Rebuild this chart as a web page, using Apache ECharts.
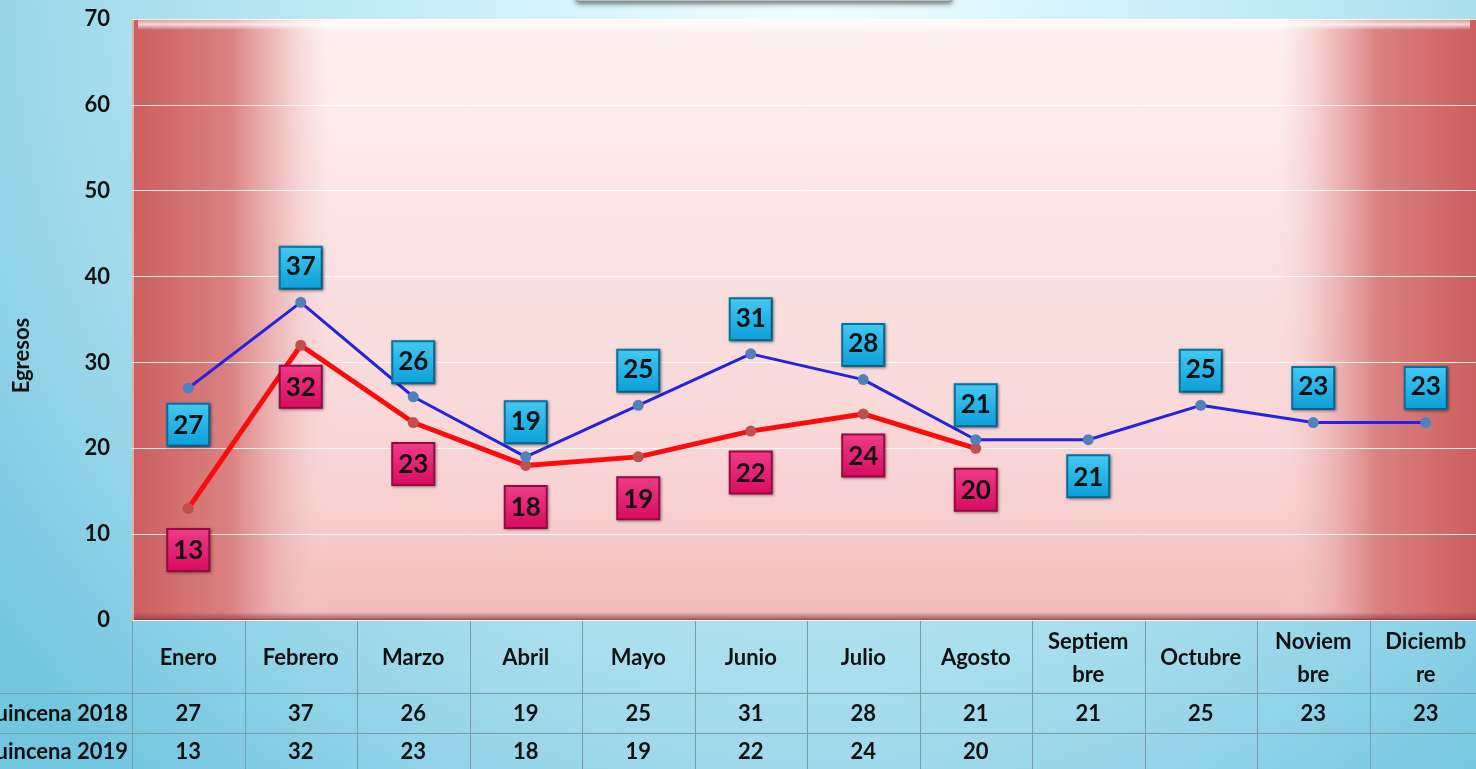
<!DOCTYPE html>
<html>
<head>
<meta charset="utf-8">
<script src="https://cdn.jsdelivr.net/npm/echarts@6/dist/echarts.min.js"></script>
<style>
html,body{margin:0;padding:0;width:1476px;height:769px;overflow:hidden;}
#c{width:1476px;height:769px;}
</style>
</head>
<body>
<div id="c"></div>
<script>
// ---- data ----
const categories = ['Enero','Febrero','Marzo','Abril','Mayo','Junio','Julio','Agosto','Septiembre','Octubre','Noviembre','Diciembre'];
const tickLabels = ['Enero','Febrero','Marzo','Abril','Mayo','Junio','Julio','Agosto','Septiem\nbre','Octubre','Noviem\nbre','Diciemb\nre'];
const seriesNames = ['Quincena 2018','Quincena 2019'];
const values2018 = [27,37,26,19,25,31,28,21,21,25,23,23];
const values2019 = [13,32,23,18,19,22,24,20,null,null,null,null];
const yAxisName = 'Egresos';
const yMin = 0, yMax = 70, yStep = 10;

// ---- styles ----
const FONT = 'Lato';
const below2018 = new Set([0, 8]);

function boxLabel(c1, c2, border, pos, dist) {
  return {
    show: true, position: pos, distance: dist,
    formatter: '{c}',
    width: 40, height: 40, lineHeight: 42,
    fontSize: 26, fontWeight: 'bold', fontFamily: FONT, color: '#111',
    backgroundColor: {type:'linear', x:0, y:0, x2:0, y2:1,
      colorStops:[{offset:0,color:c1},{offset:1,color:c2}]},
    borderColor: border, borderWidth: 2,
    shadowColor: 'rgba(0,0,0,0.45)', shadowBlur: 3, shadowOffsetX: 1, shadowOffsetY: 1
  };
}
const blueTop = boxLabel('#45c9f3', '#0a9ed8', '#0a72a2', 'top', 9);
const blueBottom = boxLabel('#45c9f3', '#0a9ed8', '#0a72a2', 'bottom', 11);
const pinkBottom = boxLabel('#f03c8a', '#d80a60', '#960a44', 'bottom', 16);

const data2018 = values2018.map((v, i) => ({
  value: v,
  label: below2018.has(i) ? blueBottom : blueTop
}));

const chart = echarts.init(document.getElementById('c'), null, {renderer: 'canvas'});

const option = {
  animation: false,
  backgroundColor: {
    type: 'radial', x: 0.55, y: 0, r: 1.35,
    colorStops: [
      {offset: 0, color: '#effeff'},
      {offset: 0.35, color: '#cbf0f8'},
      {offset: 0.75, color: '#9dd8ea'},
      {offset: 1, color: '#72c6df'}
    ]
  },
  grid: {left: 132, width: 1350, top: 19, bottom: 149, containLabel: false, outerBoundsMode: 'none'},
  xAxis: {
    type: 'category',
    data: categories,
    boundaryGap: true,
    axisLine: {show: false},
    axisTick: {show: false},
    axisLabel: {
      interval: 0,
      formatter: (v, i) => tickLabels[i],
      fontSize: 22, fontWeight: 'bold', fontFamily: FONT, color: '#111',
      lineHeight: 33, verticalAlign: 'middle', margin: 38
    },
    splitLine: {show: false}
  },
  yAxis: {
    type: 'value',
    min: yMin, max: yMax, interval: yStep,
    axisLine: {show: false},
    axisTick: {show: false},
    axisLabel: {fontSize: 22, fontWeight: 'bold', fontFamily: FONT, color: '#111', margin: 22},
    splitLine: {show: true, lineStyle: {color: 'rgba(255,255,255,0.85)', width: 1}}
  },
  series: [
    {
      name: seriesNames[0],
      type: 'line',
      data: data2018,
      z: 3,
      symbol: 'circle', symbolSize: 11,
      itemStyle: {color: '#4f81bd'},
      lineStyle: {color: '#2424e0', width: 3},
      labelLayout: {hideOverlap: false}
    },
    {
      name: seriesNames[1],
      type: 'line',
      data: values2019,
      z: 2,
      symbol: 'circle', symbolSize: 11,
      itemStyle: {color: '#c0504d'},
      lineStyle: {color: '#ff0a0a', width: 5},
      label: pinkBottom
    }
  ]
};
chart.setOption(option);

// ---- decorations: plot background and data table ----
const gridRect = chart.getModel().getComponent('grid').coordinateSystem.getRect();
const gx = gridRect.x, gy = gridRect.y, gw = gridRect.width, gh = gridRect.height;
const W = chart.getWidth(), H = chart.getHeight();
const c0 = chart.convertToPixel({xAxisIndex: 0}, categories[0]);
const c1 = chart.convertToPixel({xAxisIndex: 0}, categories[1]);
const band = c1 - c0;
const fade = 200;
const sideStops = [
  {offset:0, color:'rgba(204,94,94,1)'},
  {offset:0.5, color:'rgba(219,130,130,1)'},
  {offset:0.72, color:'rgba(234,172,172,0.75)'},
  {offset:1, color:'rgba(246,210,210,0)'}
];

const g = [];
// plot area base
g.push({type:'rect', z:-20, silent:true, shape:{x:gx, y:gy, width:W-gx, height:gh},
  style:{fill:{type:'linear', x:0,y:0,x2:0,y2:1, colorStops:[
    {offset:0, color:'#fff2f2'},{offset:0.4, color:'#fbe2e2'},{offset:0.8, color:'#f8d2d2'},{offset:1, color:'#f1b9b9'}]}}});
// left red fade
g.push({type:'rect', z:-19, silent:true, shape:{x:gx, y:gy, width:fade, height:gh},
  style:{fill:{type:'linear', x:0,y:0,x2:1,y2:0, colorStops:sideStops}}});
// right red fade
g.push({type:'rect', z:-19, silent:true, shape:{x:W-fade, y:gy, width:fade, height:gh},
  style:{fill:{type:'linear', x:1,y:0,x2:0,y2:0, colorStops:sideStops}}});
// top bevel highlight
g.push({type:'rect', z:-18, silent:true, shape:{x:gx+6, y:gy, width:W-gx-12, height:11},
  style:{fill:{type:'linear', x:0,y:0,x2:0,y2:1, colorStops:[
    {offset:0, color:'rgba(255,255,255,0.25)'},{offset:0.5, color:'rgba(255,255,255,0.75)'},{offset:1, color:'rgba(255,255,255,0)'}]}}});
// bottom bevel shadow
g.push({type:'rect', z:-18, silent:true, shape:{x:gx, y:gy+gh-8, width:W-gx, height:8},
  style:{fill:{type:'linear', x:0,y:0,x2:0,y2:1, colorStops:[
    {offset:0, color:'rgba(150,60,60,0)'},{offset:0.7, color:'rgba(150,60,60,0.55)'},{offset:1, color:'rgba(120,50,50,0.8)'}]}}});
// left edge
g.push({type:'line', z:-18, silent:true, shape:{x1:gx+1, y1:gy, x2:gx+1, y2:gy+gh},
  style:{stroke:'rgba(255,220,220,0.6)', lineWidth:2}});

// y axis name
g.push({type:'text', z:5, silent:true, x: 22, y: gy + gh*0.56, rotation: Math.PI/2,
  style:{text: yAxisName, align:'center', verticalAlign:'middle', fontSize:22, fontWeight:'bold', fontFamily:FONT, fill:'#111'}});

// title box peeking at top
g.push({type:'rect', z:-5, silent:true, shape:{x:577, y:-30, width:374, height:31},
  style:{fill:'#f5f7f7', stroke:'#8a9696', lineWidth:1, shadowColor:'rgba(0,0,0,0.55)', shadowBlur:5, shadowOffsetY:2}});

// table lines
const lineColor = '#7a9aa6';
const tableTop = gy + gh;
const rowTops = [tableTop, tableTop + 73, tableTop + 113, H];
for (let i = 0; i <= categories.length; i++) {
  const x = Math.round(c0 - band/2 + i*band) + 0.5;
  g.push({type:'line', z:-4, silent:true, shape:{x1:x, y1:tableTop, x2:x, y2:H}, style:{stroke:lineColor, lineWidth:1}});
}
[rowTops[1], rowTops[2]].forEach(y => {
  g.push({type:'line', z:-4, silent:true, shape:{x1:0, y1:y+0.5, x2:W, y2:y+0.5}, style:{stroke:lineColor, lineWidth:1}});
});
// row headers and values
const rowVals = [values2018, values2019];
for (let r = 0; r < 2; r++) {
  const cy = (rowTops[r+1] + rowTops[r+2]) / 2 + 1;
  g.push({type:'text', z:5, silent:true, x: gx - 4, y: cy,
    style:{text: seriesNames[r], align:'right', verticalAlign:'middle', fontSize:22, fontWeight:'bold', fontFamily:FONT, fill:'#111'}});
  rowVals[r].forEach((v, i) => {
    if (v == null) return;
    const x = chart.convertToPixel({xAxisIndex: 0}, categories[i]);
    g.push({type:'text', z:5, silent:true, x: x, y: cy,
      style:{text: String(v), align:'center', verticalAlign:'middle', fontSize:22, fontWeight:'bold', fontFamily:FONT, fill:'#111'}});
  });
}
chart.setOption({graphic: g});
</script>
</body>
</html>
